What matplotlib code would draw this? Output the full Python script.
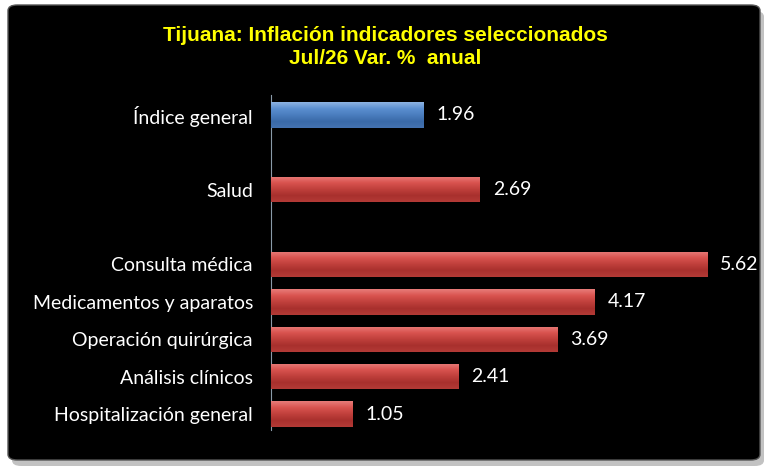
import matplotlib
matplotlib.use("Agg")
import matplotlib.pyplot as plt
import numpy as np
from matplotlib.patches import FancyBboxPatch
from matplotlib.colors import LinearSegmentedColormap

categories = ["Índice general", "Salud", "Consulta médica", "Medicamentos y aparatos",
              "Operación quirúrgica", "Análisis clínicos", "Hospitalización general"]
values = [1.96, 2.69, 5.62, 4.17, 3.69, 2.41, 1.05]
positions = [0, 2, 4, 5, 6, 7, 8]
value_labels = ["1.96", "2.69", "5.62", "4.17", "3.69", "2.41", "1.05"]
title = "Tijuana: Inflación indicadores seleccionados\nJul/26 Var. %  anual"

W, H = 770, 470
fig = plt.figure(figsize=(7.7, 4.7), dpi=100)
fig.patch.set_facecolor("white")

# shadow and black panel
shadow = FancyBboxPatch((12 / W, 1 - 466 / H), 752 / W, 455 / H,
                        boxstyle="round,pad=0,rounding_size=0.012",
                        transform=fig.transFigure, facecolor="#9a9a9a",
                        edgecolor="none", zorder=0, alpha=0.6)
fig.patches.append(shadow)
panel = FancyBboxPatch((8 / W, 1 - 460 / H), 752 / W, 455 / H,
                       boxstyle="round,pad=0,rounding_size=0.012",
                       transform=fig.transFigure, facecolor="black",
                       edgecolor="#555555", linewidth=1.0, zorder=1)
fig.patches.append(panel)

left, right = 271, 742
top, bottom = 95, 430
ax = fig.add_axes([left / W, 1 - bottom / H, (right - left) / W, (bottom - top) / H])
ax.set_facecolor("none")
ax.set_zorder(2)

red_cmap = LinearSegmentedColormap.from_list("r", ["#E87C79", "#D9534F", "#C0403C", "#A8302D", "#B33A36"])
blue_cmap = LinearSegmentedColormap.from_list("b", ["#8DB3E2", "#5B8FD0", "#4A7DBE", "#3A6AA8", "#4472B0"])

h = 0.68
bars = ax.barh(positions, values, height=h, color="#C0504D", edgecolor="none", zorder=2)
grad = np.linspace(0, 1, 64).reshape(-1, 1)
for i, b in enumerate(bars):
    cmap = blue_cmap if i == 0 else red_cmap
    x0, y0 = b.get_x(), b.get_y()
    im = ax.imshow(grad, extent=[x0, x0 + b.get_width(), y0 + b.get_height(), y0],
                   aspect="auto", cmap=cmap, zorder=3, interpolation="bilinear")
    im.set_clip_path(b)

for p, v, lab in zip(positions, values, value_labels):
    ax.text(v + 0.17, p, lab, color="white", va="center", ha="left",
            fontsize=14, family=["Lato", "DejaVu Sans"], zorder=4)

ax.set_xlim(0, (right - left) / 77.6)
ax.set_ylim(8 + 16 / 37.5, -20 / 37.5)
ax.set_yticks(positions)
ax.set_yticklabels(categories, color="white", fontsize=14, family=["Lato", "DejaVu Sans"])
ax.tick_params(axis="y", length=0, pad=13)
ax.set_xticks([])
for s in ["top", "right", "bottom"]:
    ax.spines[s].set_visible(False)
ax.spines["left"].set_color("#8a9aa8")
ax.spines["left"].set_linewidth(0.8)

fig.text(385 / W, 1 - 47 / H, title, color="#FFFF00", ha="center", va="center",
         fontsize=15, fontweight="bold", linespacing=1.25,
         family=["Liberation Sans", "DejaVu Sans"])

fig.savefig("out.png", dpi=100, facecolor="white")
